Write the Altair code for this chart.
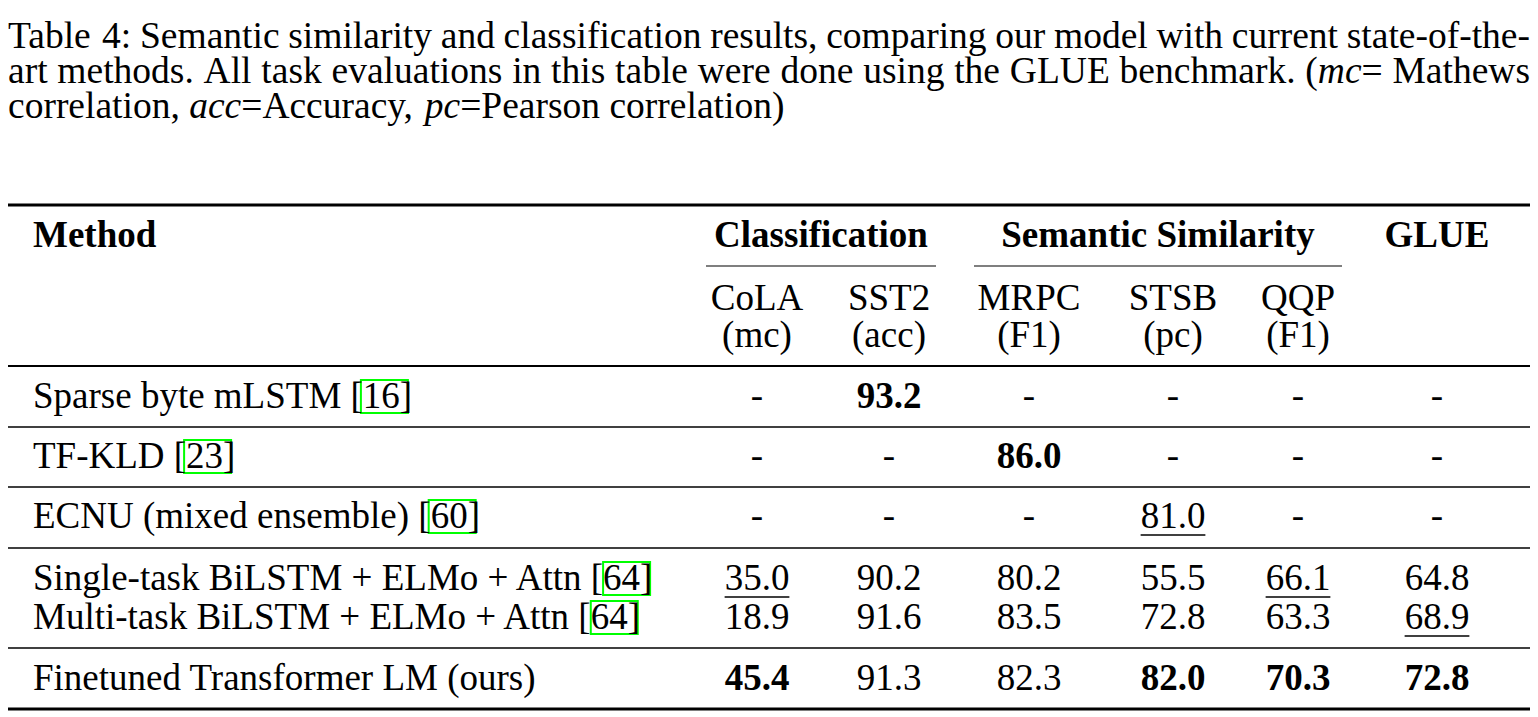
import altair as alt
import pandas as pd

# ---------------- data ----------------
caption_lines = [
    "Table 4: Semantic similarity and classification results, comparing our model with current state-of-the-",
    "art methods. All task evaluations in this table were done using the GLUE benchmark. (_mc_= Mathews",
    "correlation, _acc_=Accuracy, _pc_=Pearson correlation)",
]
group_headers = ["Classification", "Semantic Similarity", "GLUE"]
task_names = ["CoLA", "SST2", "MRPC", "STSB", "QQP"]
task_metrics = ["(mc)", "(acc)", "(F1)", "(pc)", "(F1)"]
methods = [
    "Sparse byte mLSTM",
    "TF-KLD",
    "ECNU (mixed ensemble)",
    "Single-task BiLSTM + ELMo + Attn",
    "Multi-task BiLSTM + ELMo + Attn",
    "Finetuned Transformer LM (ours)",
]
citations = ["16", "23", "60", "64", "64", ""]
cola = ["-", "-", "-", "35.0", "18.9", "45.4"]
sst2 = ["93.2", "-", "-", "90.2", "91.6", "91.3"]
mrpc = ["-", "86.0", "-", "80.2", "83.5", "82.3"]
stsb = ["-", "-", "81.0", "55.5", "72.8", "82.0"]
qqp = ["-", "-", "-", "66.1", "63.3", "70.3"]
glue = ["-", "-", "-", "64.8", "68.9", "72.8"]
bold_cells = [(0, "SST2"), (1, "MRPC"), (5, "CoLA"), (5, "STSB"), (5, "QQP"), (5, "GLUE")]
underlined_cells = [(2, "STSB"), (3, "CoLA"), (3, "QQP"), (4, "GLUE")]

# ---------------- layout ----------------
FONT = "Liberation Serif"
FS_T = 37.0
FS_C = 37.5
LEFT, RIGHT = 8, 1530
TXT_X = 33
cap_base = [48, 83, 118]
col_keys = ["CoLA", "SST2", "MRPC", "STSB", "QQP", "GLUE"]
col_x = {"CoLA": 757, "SST2": 889, "MRPC": 1029, "STSB": 1173, "QQP": 1298, "GLUE": 1437}
group_x = [821, 1158, 1437]
cmid = [(706, 936), (974, 1342)]
head_base, task_base, metric_base = 247, 310, 347
row_base = [408, 468, 528, 590, 629, 690]
rules = [  # y, x1, x2, width, colour
    (205, LEFT, RIGHT, 3.2, "#000000"),
    (266, cmid[0][0], cmid[0][1], 1.5, "#555555"),
    (266, cmid[1][0], cmid[1][1], 1.5, "#555555"),
    (366, LEFT, RIGHT, 2.2, "#000000"),
    (427, LEFT, RIGHT, 1.6, "#000000"),
    (487, LEFT, RIGHT, 1.6, "#000000"),
    (548, LEFT, RIGHT, 1.6, "#000000"),
    (648, LEFT, RIGHT, 1.6, "#000000"),
    (709, LEFT, RIGHT, 3.2, "#000000"),
]

# Times metrics (1/1000 em)
TR = {' ': 250, '!': 333, '(': 333, ')': 333, '+': 564, ',': 250, '-': 333, '.': 250,
      ':': 278, '=': 564, '[': 333, ']': 333,
      'A': 722, 'B': 667, 'C': 667, 'D': 722, 'E': 611, 'F': 556, 'G': 722, 'H': 722,
      'I': 333, 'J': 389, 'K': 722, 'L': 611, 'M': 889, 'N': 722, 'O': 722, 'P': 556,
      'Q': 722, 'R': 667, 'S': 556, 'T': 611, 'U': 722, 'V': 722, 'W': 944, 'X': 722,
      'Y': 722, 'Z': 611,
      'a': 444, 'b': 500, 'c': 444, 'd': 500, 'e': 444, 'f': 333, 'g': 500, 'h': 500,
      'i': 278, 'j': 278, 'k': 500, 'l': 278, 'm': 778, 'n': 500, 'o': 500, 'p': 500,
      'q': 500, 'r': 333, 's': 389, 't': 278, 'u': 500, 'v': 500, 'w': 722, 'x': 500,
      'y': 500, 'z': 444}
for d in "0123456789":
    TR[d] = 500
TI = dict(TR)
TI.update({'a': 500, 'c': 444, 'm': 722, 'p': 500})


def tw(s, table=TR):
    return sum(table.get(ch, 500) for ch in s) / 1000.0


texts = []


def add(x, y, t, fs, weight="normal", style="normal", align="left"):
    texts.append(dict(x=x, y=y, text=t, fs=fs, weight=weight, style=style, align=align))


# caption (justified except last line)
for i, line in enumerate(caption_lines):
    words = []
    for w in line.split(" "):
        parts = w.split("_")
        segs = [(p, k % 2 == 1) for k, p in enumerate(parts) if p]
        words.append(segs)
    widths = [sum(tw(s, TI if it else TR) * FS_C for s, it in segs) for segs in words]
    if i < len(caption_lines) - 1:
        gap = (RIGHT - LEFT - sum(widths)) / (len(words) - 1)
    else:
        gap = TR[' '] / 1000.0 * FS_C
    x = LEFT
    for segs in words:
        for s, it in segs:
            add(x, cap_base[i], s, FS_C, style="italic" if it else "normal")
            x += tw(s, TI if it else TR) * FS_C
        x += gap

# headers
add(TXT_X, head_base, "Method", FS_T, weight="bold")
for g, gx in zip(group_headers, group_x):
    add(gx, head_base, g, FS_T, weight="bold", align="center")
for k, n, m in zip(col_keys, task_names, task_metrics):
    add(col_x[k], task_base, n, FS_T, align="center")
    add(col_x[k], metric_base, m, FS_T, align="center")

# body
boxes = []
unders = []
cols = dict(zip(col_keys, [cola, sst2, mrpc, stsb, qqp, glue]))
for r, (name, cit) in enumerate(zip(methods, citations)):
    y = row_base[r]
    label = name + (" [" + cit + "]" if cit else "")
    add(TXT_X, y, label, FS_T)
    if cit:
        x0 = TXT_X + tw(name + " [") * FS_T
        w = tw(cit) * FS_T
        boxes.append(dict(x=x0 - 2, x2=x0 + w + 8, y=y - 28, y2=y + 5))
    for k in col_keys:
        v = cols[k][r]
        wt = "bold" if (r, k) in bold_cells else "normal"
        add(col_x[k], y, v, FS_T, weight=wt, align="center")
        if (r, k) in underlined_cells:
            w = tw(v) * FS_T
            unders.append(dict(x=col_x[k] - w / 2, x2=col_x[k] + w / 2, y=y + 7, w=1.5, c="#000000"))

text_df = pd.DataFrame(texts)
rule_df = pd.DataFrame([dict(y=y, x=a, x2=b, w=w, c=c) for y, a, b, w, c in rules] + unders)
box_df = pd.DataFrame(boxes)

xs = alt.Scale(domain=[LEFT, RIGHT])
ys = alt.Scale(domain=[8, 717], reverse=True)

rule_layer = alt.Chart(rule_df).mark_rule().encode(
    x=alt.X("x:Q", scale=xs, axis=None),
    x2="x2:Q",
    y=alt.Y("y:Q", scale=ys, axis=None),
    size=alt.Size("w:Q", scale=None, legend=None),
    color=alt.Color("c:N", scale=None, legend=None),
)

box_layer = alt.Chart(box_df).mark_rect(fillOpacity=0, stroke="#00ff00", strokeWidth=2).encode(
    x=alt.X("x:Q", scale=xs, axis=None),
    x2="x2:Q",
    y=alt.Y("y:Q", scale=ys, axis=None),
    y2="y2:Q",
)

layers = [rule_layer, box_layer]
for (wt, st, al), sub in text_df.groupby(["weight", "style", "align"]):
    layers.append(
        alt.Chart(sub).mark_text(font=FONT, fontWeight=wt, fontStyle=st, align=al,
                                 baseline="alphabetic", color="black").encode(
            x=alt.X("x:Q", scale=xs, axis=None),
            y=alt.Y("y:Q", scale=ys, axis=None),
            text="text:N",
            size=alt.Size("fs:Q", scale=None, legend=None),
        )
    )

chart = alt.layer(*layers).properties(
    width=RIGHT - LEFT, height=709, padding=0, autosize="none", background="white"
).configure_view(stroke=None)

chart.save("out.html", embed_options={"renderer": "svg", "actions": False})
